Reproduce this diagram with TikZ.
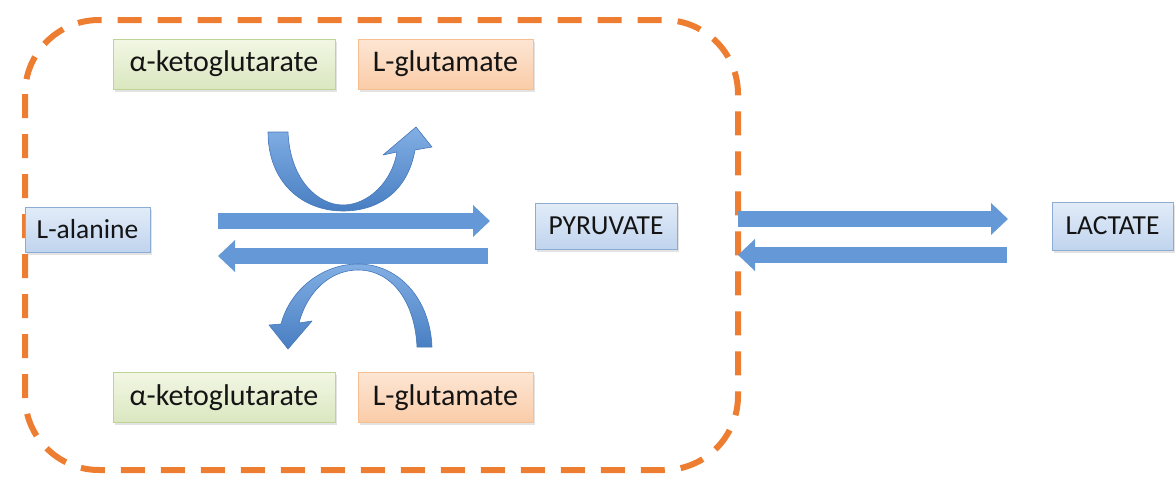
\documentclass[tikz,border=0pt]{standalone}
\usepackage{fontspec}
\setmainfont{Carlito}
\usetikzlibrary{arrows.meta,shadows}

\definecolor{zoneorange}{RGB}{237,125,49}
\definecolor{flowblue}{RGB}{100,152,214}
\definecolor{flowlight}{RGB}{130,175,228}
\definecolor{flowdark}{RGB}{72,126,194}
\definecolor{flowedge}{RGB}{70,120,185}
\definecolor{bluetop}{RGB}{226,236,248}
\definecolor{bluebot}{RGB}{192,212,238}
\definecolor{blueedge}{RGB}{140,172,212}
\definecolor{greentop}{RGB}{242,247,228}
\definecolor{greenbot}{RGB}{218,231,192}
\definecolor{greenedge}{RGB}{190,212,150}
\definecolor{orangetop}{RGB}{253,230,212}
\definecolor{orangebot}{RGB}{250,204,168}
\definecolor{orangeedge}{RGB}{246,190,145}

\begin{document}
\begin{tikzpicture}[x=1pt,y=-1pt,
  basebox/.style={draw, line width=1pt, inner sep=0pt, text=black!92,
    drop shadow={opacity=0.22, shadow xshift=1.5pt, shadow yshift=-2.5pt}},
  bluebox/.style={basebox, draw=blueedge, top color=bluetop, bottom color=bluebot,
    font=\fontsize{27.5}{32}\selectfont},
  greenbox/.style={basebox, draw=greenedge, top color=greentop, bottom color=greenbot,
    minimum width=222pt, minimum height=50pt, font=\fontsize{30}{36}\selectfont},
  orangebox/.style={basebox, draw=orangeedge, top color=orangetop, bottom color=orangebot,
    minimum width=175pt, minimum height=50pt, font=\fontsize{30}{36}\selectfont},
  zone/.style={draw=zoneorange, line width=6pt, dash pattern=on 24pt off 16pt,
    rounded corners=74pt},
  flow/.style={draw=flowblue, line width=16pt,
    -{Triangle[width=31pt,length=17pt]}},
  curvedflow/.style={draw=flowedge, line width=0.6pt, line join=round,
    top color=flowlight, bottom color=flowdark}
]
\useasboundingbox (0,0) rectangle (1176,479);

% dashed compartment
\draw[zone] (25,20) rectangle (738,470);

% metabolites
\node[greenbox]  (akgTop) at (224,64)    {α-ketoglutarate};
\node[orangebox] (gluTop) at (445.5,64)  {L-glutamate};
\node[greenbox]  (akgBot) at (224,397.5) {α-ketoglutarate};
\node[orangebox] (gluBot) at (445.5,397.5) {L-glutamate};
\node[bluebox, minimum width=125pt, minimum height=45pt] (ala) at (87.5,229.5) {L-alanine};
\node[bluebox, minimum width=142pt, minimum height=46pt] (pyr) at (606,226) {PYRUVATE};
\node[bluebox, minimum width=121pt, minimum height=48pt] (lac) at (1112.5,226) {LACTATE};

% reaction arrow end points
\coordinate (fwdA) at (218,221);
\coordinate (fwdB) at (490,221);
\coordinate (revA) at (488,256);
\coordinate (revB) at (218,256);
\coordinate (fwdC) at (738,219);
\coordinate (fwdD) at (1008,219);
\coordinate (revC) at (1007,255);
\coordinate (revD) at (738,255);

\draw[flow] (fwdA) -- (fwdB);
\draw[flow] (revA) -- (revB);
\draw[flow] (fwdC) -- (fwdD);
\draw[flow] (revC) -- (revD);

% upper co-substrate arrow
\shade[curvedflow] (268,132) -- (288,132)
  .. controls (290,180) and (318,205) .. (343,205)
  .. controls (368,205) and (392,182) .. (397,152)
  -- (383,155) -- (416,127) -- (432,147) -- (415,150)
  .. controls (408,190) and (380,211) .. (343,211)
  .. controls (302,211) and (268,182) .. (268,132) -- cycle;

% lower co-substrate arrow
\shade[curvedflow] (432,347)
  .. controls (430,298) and (398,264) .. (358,264)
  .. controls (322,264) and (290,290) .. (281,324)
  -- (269,325) -- (288,349) -- (312,321) -- (299,323)
  .. controls (307,292) and (330,270) .. (358,270)
  .. controls (392,270) and (415,302) .. (417,347) -- cycle;
\end{tikzpicture}
\end{document}
